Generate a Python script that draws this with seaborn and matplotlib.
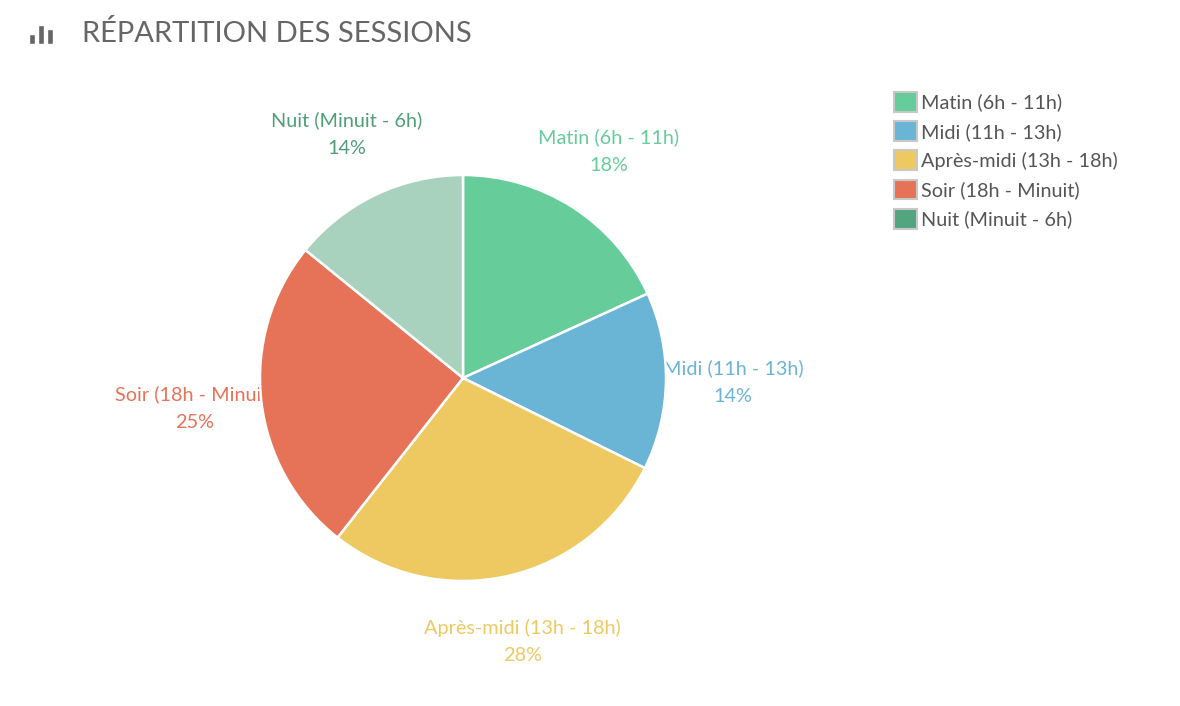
import matplotlib.pyplot as plt
import seaborn as sns
from matplotlib.patches import Patch

categories = ["Matin (6h - 11h)", "Midi (11h - 13h)", "Après-midi (13h - 18h)",
              "Soir (18h - Minuit)", "Nuit (Minuit - 6h)"]
shares = [18, 14, 28, 25, 14]
slice_colors = ["#66cc9a", "#6ab4d6", "#eec962", "#e67358", "#a8d2be"]
text_colors = ["#66cc9a", "#6ab4d6", "#eec962", "#e67358", "#4e9e78"]
legend_colors = ["#66cc9a", "#6ab4d6", "#eec962", "#e67358", "#52a57e"]

sns.set_theme(style="white")
plt.rcParams['font.family'] = ['Lato', 'DejaVu Sans']

W, H = 1180, 706
fig = plt.figure(figsize=(W / 100, H / 100), dpi=100)
ax = fig.add_axes([0, 0, 1, 1])

labels = [f"{c}\n{s}%" for c, s in zip(categories, shares)]
wedges, texts = ax.pie(shares, labels=labels, colors=slice_colors, startangle=90,
                       counterclock=False, center=(463, H - 378), radius=203,
                       labeldistance=1.33, frame=True,
                       wedgeprops=dict(edgecolor="white", linewidth=1.8),
                       textprops=dict(fontsize=14.3, linespacing=1.75))
ax.set_xlim(0, W)
ax.set_ylim(0, H)
ax.set_aspect("equal")
ax.axis("off")
for w in wedges:
    w.set_zorder(3)
for t, c in zip(texts, text_colors):
    t.set_color(c)
    t.set_ha("center")
    t.set_va("center")
    t.set_zorder(1)

# title and icon
ax.text(82, H - 33, "RÉPARTITION DES SESSIONS", fontsize=21, color="#666666",
        va="center", ha="left")
ax.bar([31.5, 40.5, 49.5], [10, 19, 15], width=6, bottom=H - 44, color="#666666")

handles = [Patch(facecolor=c, edgecolor="#c8c8c8", linewidth=1.5) for c in legend_colors]
fig.legend(handles, categories, loc="upper left", bbox_to_anchor=(886 / W, 1 - 84 / H),
           frameon=False, fontsize=14.3, handlelength=1.15, handleheight=1.15,
           handletextpad=0.2, labelspacing=0.48, labelcolor="#555555", borderaxespad=0)

fig.savefig("out.png", dpi=100)
